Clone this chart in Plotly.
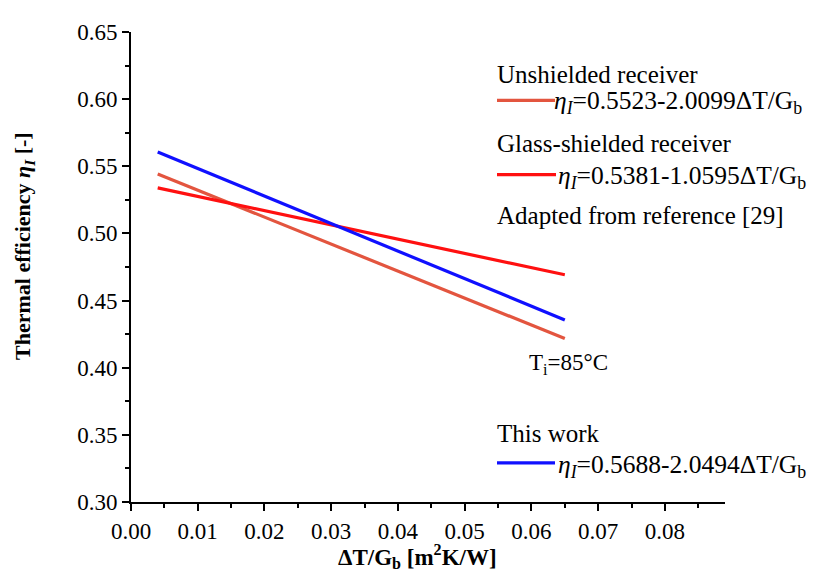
import plotly.graph_objects as go

# Data (endpoints of fitted efficiency lines)
x_vals = [0.004, 0.065]
unshielded = [0.5443, 0.4217]
glass = [0.5339, 0.4692]
this_work = [0.5606, 0.4356]

x_ticks = [0.00, 0.01, 0.02, 0.03, 0.04, 0.05, 0.06, 0.07, 0.08]
y_ticks = [0.30, 0.35, 0.40, 0.45, 0.50, 0.55, 0.60, 0.65]

C_UNSH = "#E3553F"
C_GLASS = "#FF1010"
C_WORK = "#1010FF"
FONT = "Liberation Serif"

fig = go.Figure()
fig.add_trace(go.Scatter(x=x_vals, y=unshielded, mode="lines", line=dict(color=C_UNSH, width=3.2)))
fig.add_trace(go.Scatter(x=x_vals, y=glass, mode="lines", line=dict(color=C_GLASS, width=3.2)))
fig.add_trace(go.Scatter(x=x_vals, y=this_work, mode="lines", line=dict(color=C_WORK, width=3.2)))

OFF = 8  # page body margin
W, H = 819 - OFF, 572 - OFF
L, R, T, B = 131 - OFF, 725 - OFF, 21 - OFF, 502 - OFF
pw, ph = R - L, B - T


def px(xp):
    return (xp - OFF - L) / pw


def py(yp):
    return (B - (yp - OFF)) / ph


fig.update_layout(
    width=W, height=H,
    margin=dict(l=L, r=W - R, t=T, b=H - B),
    plot_bgcolor="white", paper_bgcolor="white",
    showlegend=False,
    font=dict(family=FONT, size=23, color="black"),
)
fig.update_xaxes(
    range=[0, 0.089], tickvals=x_ticks, ticktext=[f"{v:.2f}" for v in x_ticks],
    showgrid=False, zeroline=False, showline=True, linecolor="black", linewidth=2,
    ticks="outside", ticklen=7, tickwidth=2, tickcolor="black",
    tickfont=dict(family=FONT, size=23),
    minor=dict(tickvals=[0.005, 0.015, 0.025, 0.035, 0.045, 0.055, 0.065, 0.075, 0.085],
               ticks="outside", ticklen=4, tickwidth=2, tickcolor="black"),
)
fig.update_yaxes(
    range=[0.30, 0.65], tickvals=y_ticks, ticktext=[f"{v:.2f}" for v in y_ticks],
    showgrid=False, zeroline=False, showline=True, linecolor="black", linewidth=2,
    ticks="outside", ticklen=7, tickwidth=2, tickcolor="black",
    tickfont=dict(family=FONT, size=23),
    minor=dict(tickvals=[0.325, 0.375, 0.425, 0.475, 0.525, 0.575, 0.625],
               ticks="outside", ticklen=4, tickwidth=2, tickcolor="black"),
)

# Axis titles as annotations (positioned as in reference)
fig.add_annotation(text="<b>Thermal efficiency <i>η<sub>I</sub></i> [-]</b>",
                   xref="paper", yref="paper", x=px(24), y=py(240),
                   xanchor="center", yanchor="middle", textangle=-90, showarrow=False,
                   font=dict(family=FONT, size=22))
fig.add_annotation(text="<b>ΔT/G<sub>b</sub> [m<sup>2</sup>K/W]</b>",
                   xref="paper", yref="paper", x=px(417), y=py(558),
                   xanchor="center", yanchor="middle", showarrow=False,
                   font=dict(family=FONT, size=23))

eta = "<i>η<sub>I</sub></i>"
texts = [
    ("Unshielded receiver", 495, 64, 25),
    (eta + "=0.5523-2.0099ΔT/G<sub>b</sub>", 552, 93, 25.5),
    ("Glass-shielded receiver", 495, 135, 25),
    (eta + "=0.5381-1.0595ΔT/G<sub>b</sub>", 556, 169, 25.5),
    ("Adapted from reference [29]", 495, 209, 25),
    ("This work", 495, 432, 25),
    (eta + "=0.5688-2.0494ΔT/G<sub>b</sub>", 556, 465, 25.5),
    ("T<sub>i</sub>=85°C", 527, 361, 23),
]
for t, xp, yp, fs in texts:
    fig.add_annotation(text=t, xref="paper", yref="paper", x=px(xp), y=py(yp),
                       xanchor="left", yanchor="middle", showarrow=False,
                       font=dict(family=FONT, size=fs))

samples = [(C_UNSH, 497, 555, 91), (C_GLASS, 497, 556, 167), (C_WORK, 497, 555, 462)]
for c, x0, x1, yp in samples:
    fig.add_shape(type="line", xref="paper", yref="paper", x0=px(x0), x1=px(x1),
                  y0=py(yp), y1=py(yp), line=dict(color=c, width=3.2))

fig.write_html("out.html")
